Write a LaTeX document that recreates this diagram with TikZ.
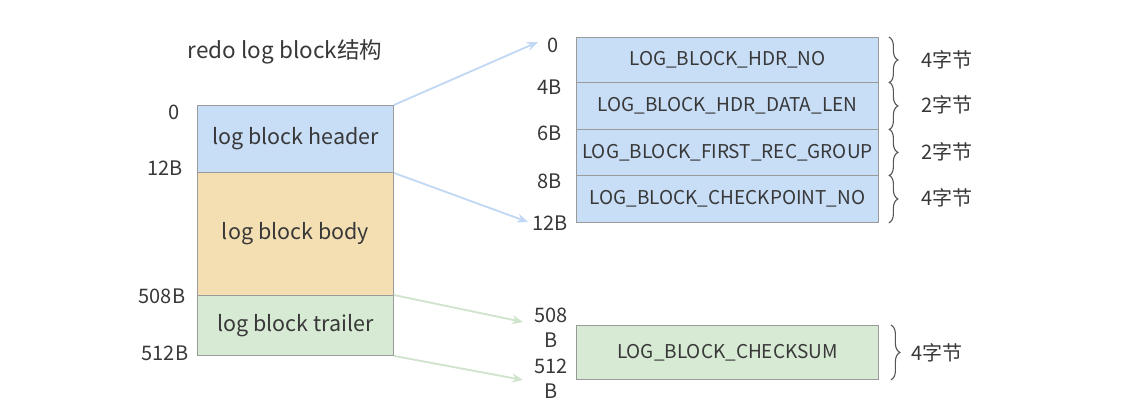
\documentclass[tikz,border=0pt]{standalone}
\usepackage{fontspec}
\setmainfont{Noto Sans CJK SC}
\usetikzlibrary{decorations.pathreplacing,arrows.meta}
\definecolor{txt}{HTML}{383838}
\definecolor{bluef}{HTML}{C8DDF6}
\definecolor{orangef}{HTML}{F4DFB2}
\definecolor{greenf}{HTML}{D7EAD4}
\definecolor{bord}{HTML}{9A9A9A}
\definecolor{bluea}{HTML}{C0D8F4}
\definecolor{greena}{HTML}{D0E4CD}
\tikzset{
  box/.style={draw=bord, line width=0.9pt, anchor=north west, inner sep=0pt, text=txt, font=\fontsize{19}{21}\selectfont},
  lbox/.style={box, font=\fontsize{21.5}{24}\selectfont},
  lbl/.style={text=txt, inner sep=0pt, font=\fontsize{20}{25}\selectfont, align=center},
  brc/.style={decorate, decoration={brace, amplitude=9pt}, draw=txt!85, line width=1.1pt},
  conn/.style={line width=1.8pt, -{Stealth[length=11pt, width=9pt]}},
}
\begin{document}
\begin{tikzpicture}[x=1pt, y=-1pt]
\useasboundingbox (0,0) rectangle (1127,409);
\fill[white] (0,0) rectangle (1127,409);
% title
\node[lbl, font=\fontsize{22.5}{25}\selectfont] (title) at (285,52) {redo log block结构};
% left block
\node[lbox, fill=bluef, minimum width=196pt, minimum height=67pt] (hdr) at (197,105) {log block header};
\node[lbox, fill=orangef, minimum width=196pt, minimum height=123pt] (body) at (197,172) {log block body};
\node[lbox, fill=greenf, minimum width=196pt, minimum height=60pt] (trl) at (197,295) {log block trailer};
% left labels
\node[lbl] (l0) at (174,112) {0};
\node[lbl] (l12) at (165,168) {12B};
\node[lbl] (l508) at (162,296) {508B};
\node[lbl] (l512) at (165,353) {512B};
% right header rows
\node[box, fill=bluef, minimum width=302pt, minimum height=45pt] (r1) at (576,37) {LOG\_BLOCK\_HDR\_NO};
\node[box, fill=bluef, minimum width=302pt, minimum height=47pt] (r2) at (576,82) {LOG\_BLOCK\_HDR\_DATA\_LEN};
\node[box, fill=bluef, minimum width=302pt, minimum height=46pt] (r3) at (576,129) {LOG\_BLOCK\_FIRST\_REC\_GROUP};
\node[box, fill=bluef, minimum width=302pt, minimum height=47pt] (r4) at (576,175) {LOG\_BLOCK\_CHECKPOINT\_NO};
\node[box, fill=greenf, minimum width=302pt, minimum height=54pt] (ck) at (576,325) {LOG\_BLOCK\_CHECKSUM};
% right labels
\node[lbl] (o0) at (553,45) {0};
\node[lbl] (o4) at (550,87) {4B};
\node[lbl] (o6) at (550,133) {6B};
\node[lbl] (o8) at (550,181) {8B};
\node[lbl] (o12) at (550,223) {12B};
\node[lbl] (o508) at (551,328) {508\\B};
\node[lbl] (o512) at (551,379) {512\\B};
% braces
\draw[brc] ([xshift=10pt]r1.north east) -- ([xshift=10pt]r1.south east);
\draw[brc] ([xshift=10pt]r2.north east) -- ([xshift=10pt]r2.south east);
\draw[brc] ([xshift=10pt]r3.north east) -- ([xshift=10pt]r3.south east);
\draw[brc] ([xshift=10pt]r4.north east) -- ([xshift=10pt]r4.south east);
\draw[brc] ([xshift=12pt]ck.north east) -- ([xshift=12pt]ck.south east);
\node[lbl] (s1) at (947,60) {4字节};
\node[lbl] (s2) at (947,105) {2字节};
\node[lbl] (s3) at (947,152) {2字节};
\node[lbl] (s4) at (947,198) {4字节};
\node[lbl] (s5) at (937,353) {4字节};
% connectors
\coordinate (a1) at (538,42);
\coordinate (a2) at (528,222);
\coordinate (a3) at (523,322);
\coordinate (a4) at (523,380);
\draw[conn, bluea] (hdr.north east) -- (a1);
\draw[conn, bluea] (hdr.south east) -- (a2);
\draw[conn, greena] (trl.north east) -- (a3);
\draw[conn, greena] (trl.south east) -- (a4);
\end{tikzpicture}
\end{document}
